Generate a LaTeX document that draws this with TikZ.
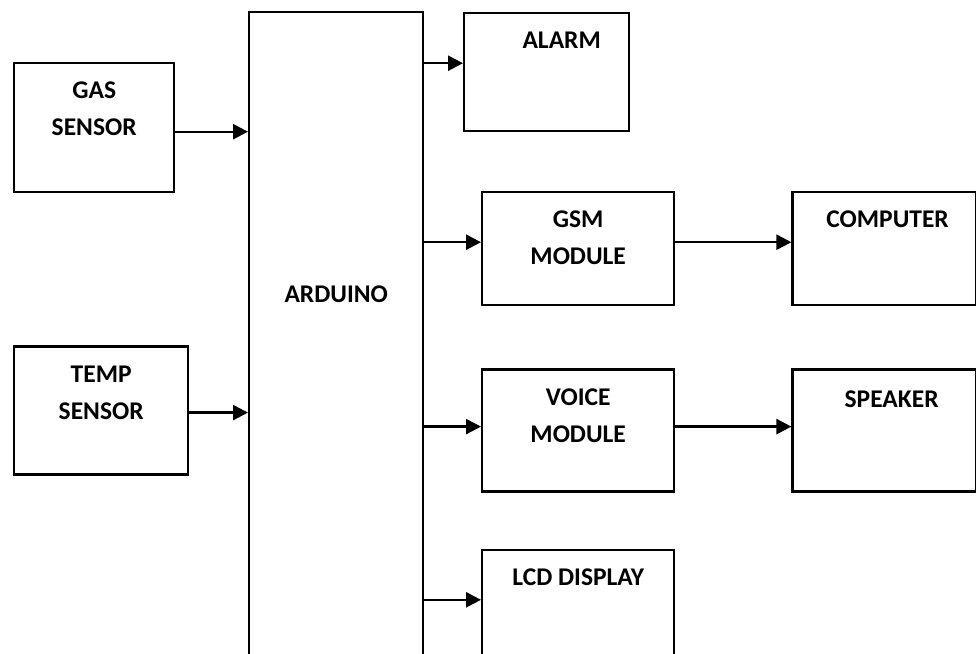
\documentclass[tikz,border=0pt]{standalone}
\usepackage{fontspec}
\setmainfont{Carlito}
\usetikzlibrary{positioning,arrows.meta}

\begin{document}
\begin{tikzpicture}[x=1pt, y=-1pt,
  block/.style={draw, line width=2.4pt, minimum width=#1, inner sep=0pt, anchor=north west},
  caption/.style={font=\bfseries\fontsize{25.5}{37}\selectfont, align=center, inner sep=0pt, anchor=north, yshift=-20pt},
  link/.style={line width=2.4pt, -{Triangle[length=15pt, width=15pt]}}]

\useasboundingbox (0,0) rectangle (976,653);
\clip (0,0) rectangle (976,653);

% INPUTS AND CONTROLLER

\node [block=174pt, minimum height=720pt, label={[caption, yshift=-255pt]north:ARDUINO}] (arduino) at (248,11) {};

\node [block=160pt, minimum height=129pt, label={[caption]north:{GAS\\SENSOR}}] (gas) at (13,62) {};

\node [block=174pt, minimum height=128pt, below=152pt of gas.south west, anchor=north west, label={[caption]north:{TEMP\\SENSOR}}] (temp) {};

% OUTPUTS

\node [block=165pt, minimum height=118pt, label={[caption, xshift=15pt]north:ALARM}] (alarm) at (463,12) {};

\node [block=192pt, minimum height=113pt, label={[caption]north:{GSM\\MODULE}}] (gsm) at (481,191) {};

\node [block=184pt, minimum height=113pt, right=116pt of gsm.north east, anchor=north west, label={[caption, xshift=3pt]north:COMPUTER}] (computer) {};

\node [block=192pt, minimum height=122pt, below=62pt of gsm.south west, anchor=north west, label={[caption]north:{VOICE\\MODULE}}] (voice) {};

\node [block=184pt, minimum height=122pt, right=116pt of voice.north east, anchor=north west, label={[caption, xshift=7pt, yshift=-2pt]north:SPEAKER}] (speaker) {};

\node [block=192pt, minimum height=150pt, below=56pt of voice.south west, anchor=north west, label={[caption]north:LCD DISPLAY}] (lcd) {};

% CONNECTIONS

\coordinate (gas-out) at ([yshift=-4pt]gas.east);
\coordinate (temp-out) at ([yshift=-2pt]temp.east);
\coordinate (alarm-in) at ([yshift=9pt]alarm.west);
\coordinate (gsm-in) at ([yshift=6.5pt]gsm.west);
\coordinate (gsm-out) at ([yshift=6.5pt]gsm.east);
\coordinate (voice-in) at ([yshift=4pt]voice.west);
\coordinate (voice-out) at ([yshift=4pt]voice.east);
\coordinate (lcd-in) at ([yshift=-51pt]lcd.north west);

\draw [link] (gas-out) -- (gas-out -| arduino.west);
\draw [link] (temp-out) -- (temp-out -| arduino.west);

\draw [link] (alarm-in -| arduino.east) -- (alarm-in);
\draw [link] (gsm-in -| arduino.east) -- (gsm-in);
\draw [link] (voice-in -| arduino.east) -- (voice-in);
\draw [link] (lcd-in -| arduino.east) -- (lcd-in);

\draw [link] (gsm-out) -- (gsm-out -| computer.west);
\draw [link] (voice-out) -- (voice-out -| speaker.west);

\end{tikzpicture}
\end{document}
